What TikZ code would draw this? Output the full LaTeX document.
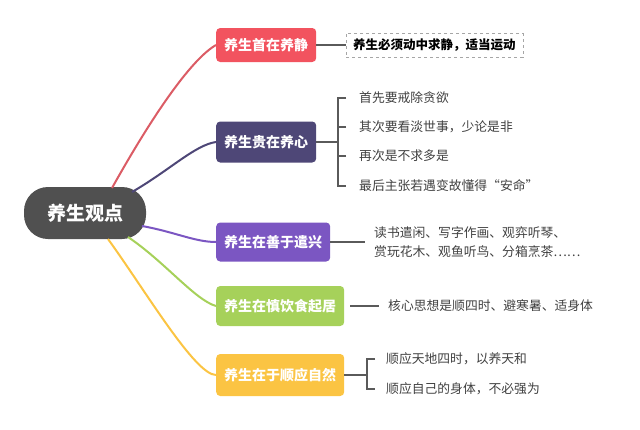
\documentclass[tikz,border=0pt]{standalone}
\usepackage{fontspec}
\setmainfont{Noto Sans CJK SC}
\usetikzlibrary{positioning}
\definecolor{rootgray}{HTML}{505050}
\definecolor{bred}{HTML}{F2535F}
\definecolor{bnavy}{HTML}{4E4777}
\definecolor{bviolet}{HTML}{7B56C2}
\definecolor{bgreen}{HTML}{A6D15A}
\definecolor{borange}{HTML}{FBC443}
\definecolor{leafgray}{HTML}{5A5A5A}

\begin{document}
\begin{tikzpicture}[x=1pt, y=-1pt,
	topic/.style={anchor=west, rounded corners=4pt, text=white, font=\bfseries\fontsize{14}{16}\selectfont, inner xsep=8pt},
	leaf/.style={anchor=west, text=black!75, font=\fontsize{12.8}{19}\selectfont, inner sep=1pt, align=left},
	wire/.style={line width=1.3pt, leafgray}]
	\useasboundingbox (0,0) rectangle (640,429);

	\node[fill=rootgray, rounded corners=24pt, text=white, minimum width=122pt, minimum height=52pt, font=\bfseries\fontsize{19}{22}\selectfont] (r) at (85,213) {养生观点};

	\node[topic, fill=bred, minimum height=34pt] (a) at (216,45) {养生首在养静};
	\node[topic, fill=bnavy, minimum height=41pt] (b) at (216,142) {养生贵在养心};
	\node[topic, fill=bviolet, minimum height=39pt] (c) at (216,242) {养生在善于遣兴};
	\node[topic, fill=bgreen, minimum height=40pt] (d) at (216,306) {养生在慎饮食起居};
	\node[topic, fill=borange, minimum height=42pt] (e) at (216,375) {养生在于顺应自然};

	% root to topics
	\draw[line width=2pt, bred!80!gray] (112,188) .. controls (150,120) and (190,60) .. (a.west);
	\draw[line width=2pt, bnavy] (132,192) .. controls (170,170) and (195,145) .. (b.west);
	\draw[line width=2pt, bviolet] (142,226) .. controls (175,232) and (195,242) .. (c.west);
	\draw[line width=2pt, bgreen] (128,237) .. controls (165,262) and (195,300) .. (d.west);
	\draw[line width=2pt, borange] (108,239) .. controls (145,290) and (195,375) .. (e.west);

	% leaves
	\node[draw=gray!70, dashed, anchor=west, inner xsep=7pt, minimum height=24pt, font=\bfseries\fontsize{12.5}{14}\selectfont] (a1) at (346,45) {养生必须动中求静，适当运动};
	\draw[wire] (a.east) -- (a1.west);

	\node[leaf] (b1) at (358,98) {首先要戒除贪欲};
	\node[leaf] (b2) at (358,127) {其次要看淡世事，少论是非};
	\node[leaf] (b3) at (358,156) {再次是不求多是};
	\node[leaf] (b4) at (358,186) {最后主张若遇变故懂得“安命”};
	\draw[wire] (b.east) -- (338,142);
	\draw[wire] (b1.west) ++(-12pt,0) -- ++(-8pt,0) |- ([xshift=-12pt]b4.west);
	\draw[wire] (b2.west) ++(-12pt,0) -- ++(-8pt,0);
	\draw[wire] (b3.west) ++(-12pt,0) -- ++(-8pt,0);

	\node[leaf] (c1) at (373,242) {读书遣闲、写字作画、观弈听琴、\\赏玩花木、观鱼听鸟、分箱烹茶……};
	\draw[wire] (c.east) -- ([xshift=-8pt]c1.west);

	\node[leaf] (d1) at (387,306) {核心思想是顺四时、避寒暑、适身体};
	\draw[wire] ([xshift=6pt]d.east) -- ([xshift=-8pt]d1.west);

	\node[leaf] (e1) at (385,359) {顺应天地四时，以养天和};
	\node[leaf] (e2) at (385,389) {顺应自己的身体，不必强为};
	\draw[wire] (e.east) -- (367,375);
	\draw[wire] (e1.west) ++(-10pt,0) -- ++(-8pt,0) |- ([xshift=-10pt]e2.west);
\end{tikzpicture}
\end{document}
